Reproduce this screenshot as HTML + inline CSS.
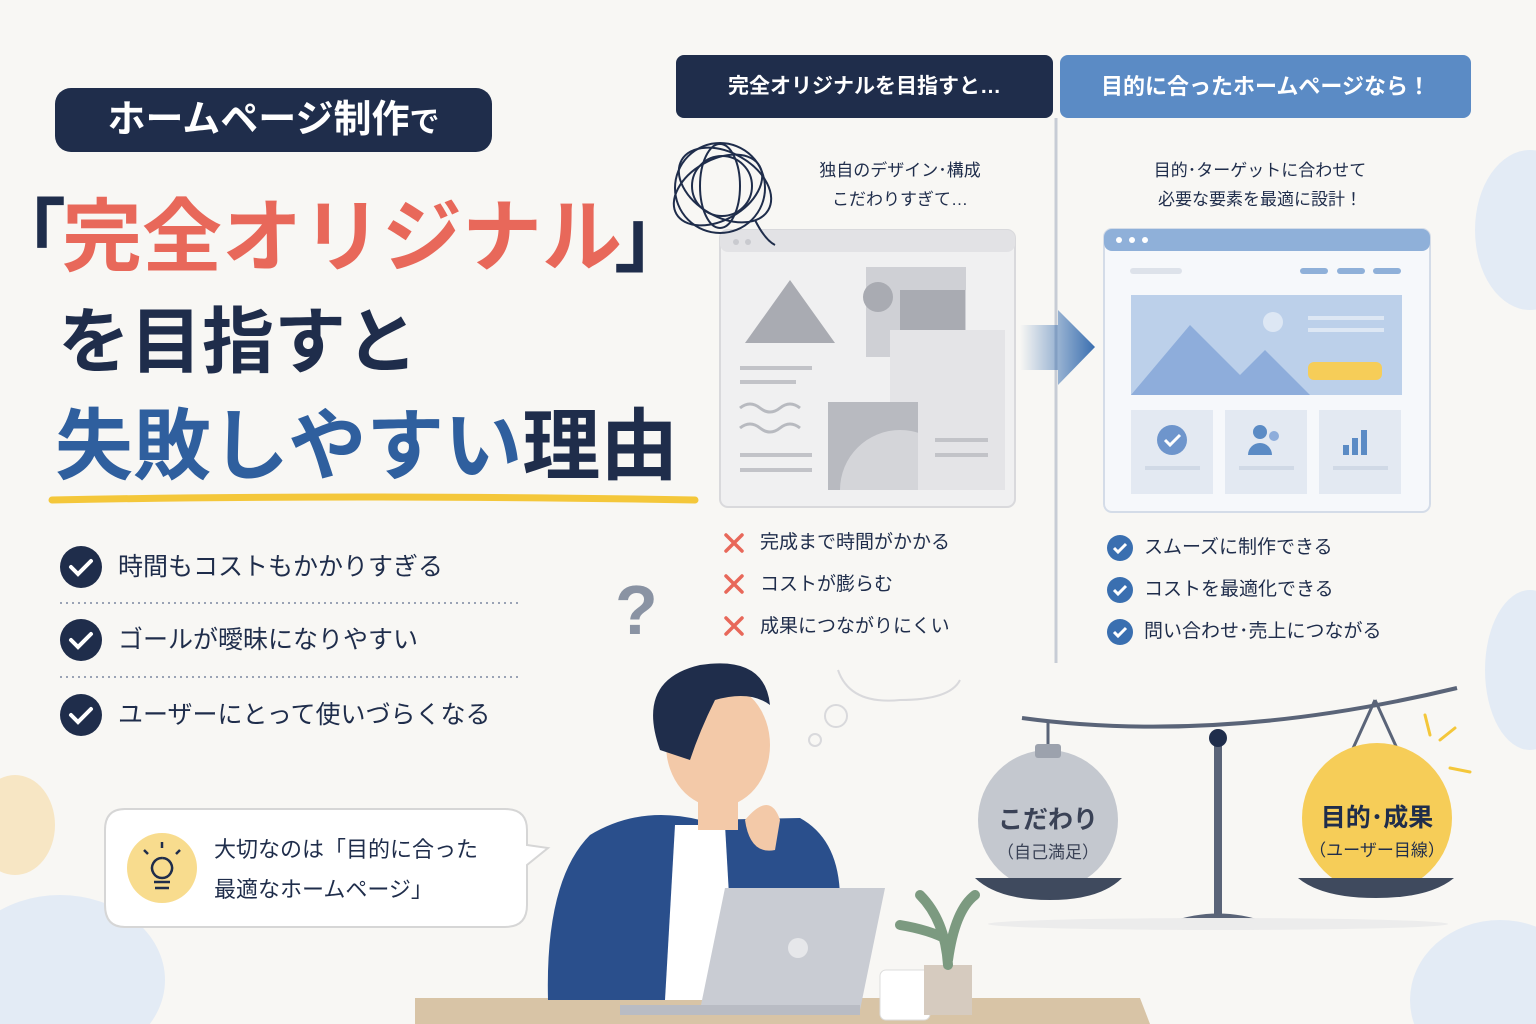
<!DOCTYPE html>
<html><head><meta charset="utf-8"><style>
*{margin:0;padding:0;box-sizing:border-box}
html,body{width:1536px;height:1024px;overflow:hidden}
body{background:#f8f7f4;position:relative;font-family:"Liberation Sans","Noto Sans CJK JP",sans-serif;color:#1f2d4b}
.a{position:absolute;white-space:nowrap}
.b{font-weight:bold}
</style></head><body>
<svg class="a" style="left:0;top:0" width="1536" height="1024">
<defs>
<linearGradient id="g" x1="0" x2="1"><stop offset="0" stop-color="#3a6fb0" stop-opacity="0"/><stop offset="1" stop-color="#3a6fb0"/></linearGradient>
<clipPath id="c1"><rect x="828" y="402" width="90" height="88"/></clipPath>
</defs>
<ellipse cx="1530" cy="230" rx="55" ry="80" fill="#e3ebf5"/>
<ellipse cx="1530" cy="670" rx="45" ry="80" fill="#e3ebf5"/>
<ellipse cx="1500" cy="1000" rx="90" ry="80" fill="#e3ebf5"/>
<ellipse cx="15" cy="825" rx="40" ry="50" fill="#f7e6c4"/>
<ellipse cx="60" cy="980" rx="105" ry="85" fill="#e3ebf5"/>
<path d="M52 500 Q350 494 695 500" stroke="#f4c73a" stroke-width="7" fill="none" stroke-linecap="round"/>
<g fill="#1f2d4b"><circle cx="81" cy="567" r="21"/><circle cx="81" cy="640" r="21"/><circle cx="81" cy="715" r="21"/></g>
<g stroke="#fff" stroke-width="4" fill="none" stroke-linecap="round"><path d="M71 567l7 7 13-13"/><path d="M71 640l7 7 13-13"/><path d="M71 715l7 7 13-13"/></g>
<g stroke="#9aa3b5" stroke-width="2" stroke-dasharray="2 4"><line x1="60" y1="603" x2="518" y2="603"/><line x1="60" y1="677" x2="518" y2="677"/></g>
<path d="M125 809 H505 Q527 809 527 830 V845 L548 848 L527 865 V905 Q527 927 505 927 H125 Q105 927 105 905 V830 Q105 809 125 809Z" fill="#fff" stroke="#d6d6d6" stroke-width="2"/>
<circle cx="162" cy="868" r="35" fill="#f8dc8e"/>
<path d="M154 882h16M155 888h14M162 858a10 10 0 1 0 0.1 0" stroke="#1f2d4b" stroke-width="2.5" fill="none"/>
<g stroke="#1f2d4b" stroke-width="2.5"><line x1="162" y1="842" x2="162" y2="848"/><line x1="144" y1="850" x2="148" y2="854"/><line x1="180" y1="850" x2="176" y2="854"/></g>
<rect x="676" y="55" width="377" height="63" rx="8" fill="#1f2d4b"/>
<rect x="1060" y="55" width="411" height="63" rx="8" fill="#5b8bc5"/>
<line x1="1056" y1="118" x2="1056" y2="663" stroke="#c7ccd5" stroke-width="3"/>
<rect x="720" y="230" width="295" height="277" rx="8" fill="#f0f0f1" stroke="#d9d9dc" stroke-width="2"/>
<rect x="720" y="230" width="295" height="22" rx="8" fill="#e2e2e5"/>
<g fill="#c9cacf"><circle cx="736" cy="242" r="3"/><circle cx="748" cy="242" r="3"/></g>
<polygon points="745,343 790,280 835,343" fill="#a9abb2"/>
<rect x="866" y="267" width="100" height="90" fill="#cfd0d5"/>
<rect x="900" y="290" width="65" height="50" fill="#a9abb2"/>
<circle cx="878" cy="297" r="15" fill="#a9abb2"/>
<rect x="890" y="330" width="115" height="160" fill="#e4e4e7"/>
<rect x="828" y="402" width="90" height="88" fill="#b8bac0"/>
<circle cx="900" cy="490" r="60" fill="#d4d5d9" clip-path="url(#c1)"/>
<g stroke="#c2c3c8" stroke-width="4"><line x1="740" y1="368" x2="812" y2="368"/><line x1="740" y1="382" x2="796" y2="382"/><line x1="740" y1="455" x2="812" y2="455"/><line x1="740" y1="470" x2="812" y2="470"/><line x1="935" y1="440" x2="988" y2="440"/><line x1="935" y1="455" x2="988" y2="455"/></g>
<path d="M740 408q10-8 20 0t20 0t20 0M740 428q10-8 20 0t20 0t20 0" stroke="#b8bac0" stroke-width="3" fill="none"/>
<g stroke="#1f2d4b" stroke-width="2" fill="none">
<circle cx="720" cy="188" r="45"/><ellipse cx="725" cy="185" rx="50" ry="32" transform="rotate(30 725 185)"/><ellipse cx="718" cy="190" rx="48" ry="30" transform="rotate(-30 718 190)"/><circle cx="722" cy="186" r="30"/><ellipse cx="720" cy="186" rx="20" ry="42"/><path d="M755 220 Q765 240 775 245"/></g>
<polygon points="1020,325 1058,325 1058,310 1095,347 1058,385 1058,370 1020,370" fill="url(#g)"/>
<rect x="1104" y="229" width="326" height="283" rx="8" fill="#f6f8fb" stroke="#d4dce8" stroke-width="2"/>
<rect x="1104" y="229" width="326" height="22" rx="8" fill="#8fb0d9"/>
<g fill="#fff"><circle cx="1119" cy="240" r="3"/><circle cx="1132" cy="240" r="3"/><circle cx="1145" cy="240" r="3"/></g>
<rect x="1130" y="268" width="52" height="6" rx="3" fill="#dde2ea"/>
<g fill="#8fb0d9"><rect x="1300" y="268" width="28" height="6" rx="3"/><rect x="1337" y="268" width="28" height="6" rx="3"/><rect x="1373" y="268" width="28" height="6" rx="3"/></g>
<rect x="1131" y="295" width="271" height="100" fill="#bcd0ea"/>
<polygon points="1131,395 1190,325 1240,375 1265,350 1310,395" fill="#8eaddb"/>
<circle cx="1273" cy="322" r="10" fill="#dde7f4"/>
<rect x="1308" y="362" width="74" height="18" rx="6" fill="#f6cd58"/>
<g stroke="#dde7f4" stroke-width="4"><line x1="1308" y1="318" x2="1384" y2="318"/><line x1="1308" y1="330" x2="1384" y2="330"/></g>
<g fill="#e3e9f2"><rect x="1131" y="410" width="82" height="84"/><rect x="1225" y="410" width="82" height="84"/><rect x="1319" y="410" width="82" height="84"/></g>
<circle cx="1172" cy="440" r="15" fill="#6e95cc"/><path d="M1165 440l5 5 10-10" stroke="#fff" stroke-width="3" fill="none"/>
<circle cx="1260" cy="432" r="7" fill="#5b8bc5"/><path d="M1248 455a12 12 0 0 1 24 0z" fill="#5b8bc5"/><circle cx="1274" cy="436" r="5" fill="#8eaddb"/>
<g fill="#5b8bc5"><rect x="1343" y="445" width="6" height="10"/><rect x="1352" y="438" width="6" height="17"/><rect x="1361" y="430" width="6" height="25"/></g>
<g stroke="#d0d9e6" stroke-width="4"><line x1="1145" y1="468" x2="1200" y2="468"/><line x1="1239" y1="468" x2="1294" y2="468"/><line x1="1333" y1="468" x2="1388" y2="468"/></g>
<g stroke="#e8685a" stroke-width="3.5" stroke-linecap="round"><path d="M726 535l16 16M742 535l-16 16"/><path d="M726 576l16 16M742 576l-16 16"/><path d="M726 618l16 16M742 618l-16 16"/></g>
<g fill="#3a6fb0"><circle cx="1120" cy="548" r="13"/><circle cx="1120" cy="590" r="13"/><circle cx="1120" cy="632" r="13"/></g>
<g stroke="#fff" stroke-width="3" fill="none"><path d="M1114 548l4 4 8-8"/><path d="M1114 590l4 4 8-8"/><path d="M1114 632l4 4 8-8"/></g>
<path d="M838 670 Q850 705 900 700 Q950 700 960 680" stroke="#d9d9dc" stroke-width="2" fill="none"/>
<circle cx="836" cy="716" r="11" fill="none" stroke="#d9d9dc" stroke-width="2"/><circle cx="815" cy="740" r="6" fill="none" stroke="#d9d9dc" stroke-width="2"/>
<polygon points="415,998 1140,998 1150,1024 415,1024" fill="#d8c4a6"/>
<path d="M548 1000 Q545 880 590 835 Q640 805 700 820 L800 818 Q840 840 840 900 L840 1000Z" fill="#2a4f8c"/>
<polygon points="675,825 725,825 735,1000 665,1000" fill="#fff"/>
<rect x="698" y="780" width="40" height="50" fill="#f3c9a8"/>
<ellipse cx="718" cy="745" rx="52" ry="62" fill="#f3c9a8"/>
<path d="M660 750 Q635 680 700 665 Q765 655 770 705 Q750 690 715 700 Q700 730 690 760Z" fill="#1f2d4b"/>
<path d="M745 820 Q770 790 780 820 L775 850 Q750 855 745 820Z" fill="#f3c9a8"/>
<polygon points="725,888 885,888 860,1010 700,1010" fill="#c9ccd3"/>
<polygon points="620,1005 860,1005 860,1015 620,1015" fill="#b9bcc4"/>
<circle cx="798" cy="948" r="10" fill="#e6e7ea"/>
<rect x="880" y="970" width="50" height="50" rx="6" fill="#fff" stroke="#ddd"/>
<path d="M925 980a12 12 0 0 1 0 24" stroke="#ddd" stroke-width="5" fill="none"/>
<rect x="924" y="965" width="48" height="50" fill="#d6cbbf"/>
<path d="M948 965 Q945 920 920 895 M948 960 Q955 910 975 895 M948 940 Q930 930 900 925" stroke="#7c9a80" stroke-width="10" fill="none" stroke-linecap="round"/>
<path d="M1022 718 Q1220 745 1457 688" stroke="#5a6478" stroke-width="4" fill="none"/>
<line x1="1218" y1="738" x2="1218" y2="915" stroke="#5a6478" stroke-width="8"/>
<path d="M1170 922 Q1218 905 1266 922Z" fill="#5a6478"/>
<ellipse cx="1218" cy="924" rx="230" ry="6" fill="#ececec"/>
<circle cx="1218" cy="738" r="9" fill="#1f2d4b"/>
<line x1="1048" y1="720" x2="1048" y2="750" stroke="#5a6478" stroke-width="3"/>
<circle cx="1048" cy="820" r="70" fill="#c4c8cf"/>
<rect x="1035" y="744" width="26" height="14" rx="3" fill="#9ca2ad"/>
<path d="M975 878 H1122 Q1100 900 1050 900 Q998 900 975 878Z" fill="#3f4a5e"/>
<path d="M1375 700 L1350 755 M1375 700 L1400 755" stroke="#5a6478" stroke-width="3"/>
<circle cx="1377" cy="818" r="75" fill="#f6cd58"/>
<path d="M1298 878 H1454 Q1430 898 1376 898 Q1322 898 1298 878Z" fill="#3f4a5e"/>
<g stroke="#f4c73a" stroke-width="3" stroke-linecap="round"><line x1="1425" y1="715" x2="1430" y2="735"/><line x1="1440" y1="740" x2="1455" y2="728"/><line x1="1450" y1="768" x2="1470" y2="772"/></g>
</svg>

<div class="a b" style="left:55px;top:88px;width:437px;height:64px;background:#1f2d4b;border-radius:16px;color:#fff;font-size:38px;line-height:64px;text-align:center">ホームページ制作<span style="font-size:30px">で</span></div>
<div class="a b" style="left:-14px;top:188px;font-size:80px;line-height:100px;color:#1f2d4b">「</div>
<div class="a b" style="left:62px;top:188px;font-size:80px;line-height:100px;color:#e8685a">完全オリジナル</div>
<div class="a b" style="left:614px;top:188px;font-size:80px;line-height:100px;color:#1f2d4b">」</div>
<div class="a b" style="left:58px;top:298px;font-size:72px;line-height:90px">を目指すと</div>
<div class="a b" style="left:55px;top:398px;font-size:78px;line-height:96px;color:#2f5f9e">失敗しやすい<span style="color:#1f2d4b">理由</span></div>
<div class="a" style="left:118px;top:551px;font-size:25px;line-height:32px">時間もコストもかかりすぎる</div>
<div class="a" style="left:118px;top:624px;font-size:25px;line-height:32px">ゴールが曖昧になりやすい</div>
<div class="a" style="left:118px;top:699px;font-size:25px;line-height:32px">ユーザーにとって使いづらくなる</div>
<div class="a" style="left:214px;top:830px;font-size:22px;line-height:40px">大切なのは「目的に合った<br>最適なホームページ」</div>
<div class="a b" style="left:676px;top:55px;width:377px;line-height:63px;text-align:center;color:#fff;font-size:21px">完全オリジナルを目指すと…</div>
<div class="a b" style="left:1060px;top:55px;width:411px;line-height:63px;text-align:center;color:#fff;font-size:22px">目的に合ったホームページなら！</div>
<div class="a" style="left:790px;top:156px;width:220px;text-align:center;font-size:17px;line-height:29px">独自のデザイン･構成<br>こだわりすぎて…</div>
<div class="a" style="left:1110px;top:156px;width:300px;text-align:center;font-size:17px;line-height:29px">目的･ターゲットに合わせて<br>必要な要素を最適に設計！</div>
<div class="a" style="left:760px;top:522px;font-size:19px;line-height:42px">完成まで時間がかかる<br>コストが膨らむ<br>成果につながりにくい</div>
<div class="a" style="left:1144px;top:527px;font-size:19px;line-height:42px">スムーズに制作できる<br>コストを最適化できる<br>問い合わせ･売上につながる</div>
<div class="a b" style="left:615px;top:570px;font-size:70px;line-height:80px;color:#8a93a3">?</div>
<div class="a b" style="left:978px;top:800px;width:140px;text-align:center;font-size:25px;color:#3a4256">こだわり</div>
<div class="a" style="left:978px;top:838px;width:140px;text-align:center;font-size:17px;color:#3a4256">（自己満足）</div>
<div class="a b" style="left:1302px;top:798px;width:150px;text-align:center;font-size:25px">目的･成果</div>
<div class="a" style="left:1302px;top:836px;width:150px;text-align:center;font-size:17px">（ユーザー目線）</div>
</body></html>
